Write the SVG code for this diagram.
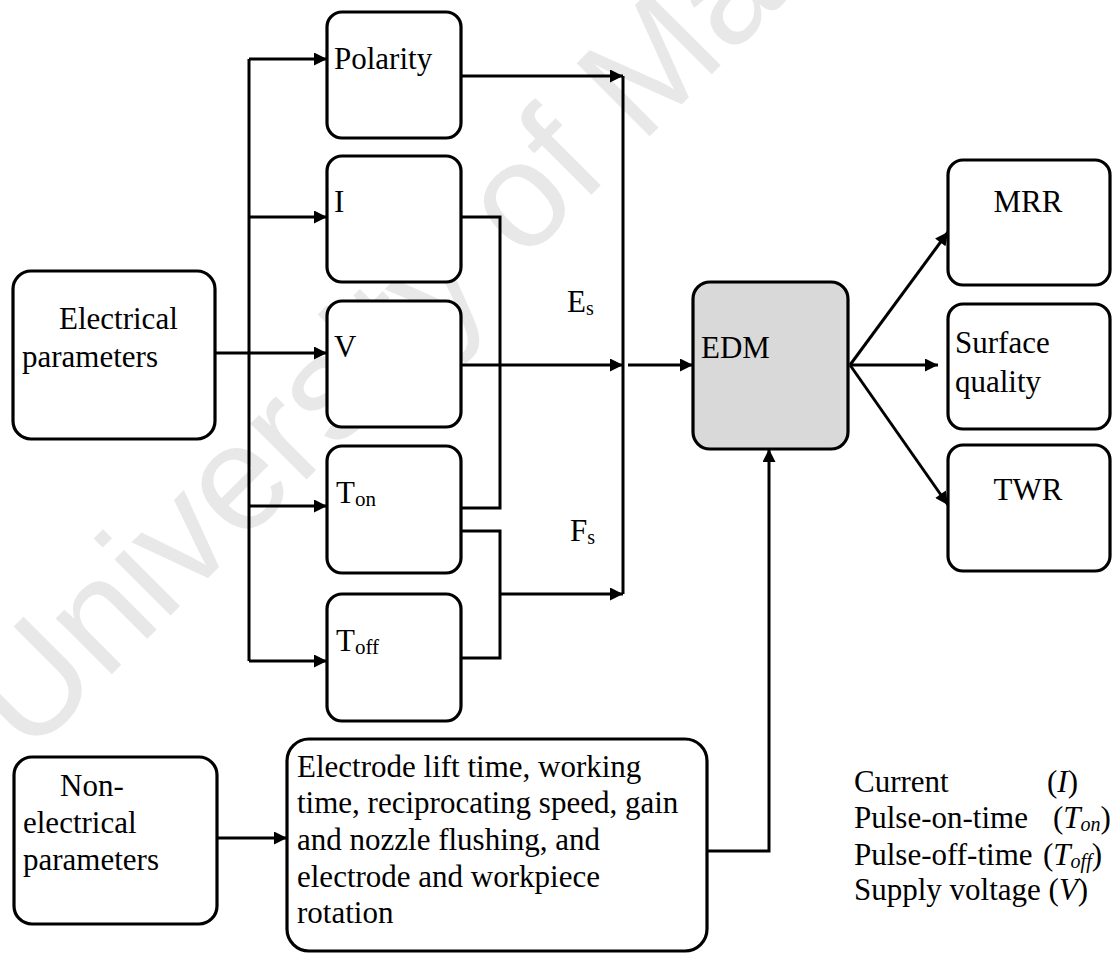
<svg xmlns="http://www.w3.org/2000/svg" width="1115" height="955" viewBox="0 0 1115 955">
<style>
.box{fill:#ffffff;stroke:#000000;stroke-width:3.2}
.edm{fill:#d9d9d9;stroke:#000000;stroke-width:3.2}
.t{font-family:"Liberation Serif","Times New Roman",serif;font-size:31px;fill:#000000}
.c{text-anchor:middle}
.wm{font-family:"Liberation Sans",Arial,sans-serif;font-size:150px;fill:#e8e8e8}
.ln{fill:none;stroke:#000000;stroke-width:3}
.ar{fill:none;stroke:#000000;stroke-width:3;marker-end:url(#ah)}
</style>
<defs>
<marker id="ah" viewBox="0 0 10 10" refX="10" refY="5" markerWidth="15" markerHeight="13" markerUnits="userSpaceOnUse" orient="auto">
<path d="M0,0 L10,5 L0,10 z" fill="#000000"/>
</marker>
</defs>
<rect width="1115" height="955" fill="#ffffff"/>
<g id="watermark">
<text class="wm" transform="translate(28,758) rotate(-45)">University of Malaya</text>
</g>
<g id="connectors">
<path class="ln" d="M249,59 V661"/>
<path class="ar" d="M249,59 H327"/>
<path class="ar" d="M249,217 H327"/>
<path class="ar" d="M249,506 H327"/>
<path class="ar" d="M249,661 H327"/>
<path class="ar" d="M215,353 H327"/>
<path class="ar" d="M461,76 H623"/>
<path class="ln" d="M623,76 V594"/>
<path class="ln" d="M461,217 H500 V508 H461"/>
<path class="ar" d="M461,365 H623"/>
<path class="ln" d="M461,531 H500 V658 H461"/>
<path class="ar" d="M500,594 H623"/>
<path class="ar" d="M628,365 H693"/>
<path class="ar" d="M850,365 L948,232"/>
<path class="ar" d="M850,365 H938"/>
<path class="ar" d="M850,365 L948,505"/>
<path class="ar" d="M217,838 H287"/>
<path class="ar" d="M707,851 H769 V449"/>
</g>
<g id="labels">
<text class="t" x="567" y="312">E<tspan font-size="20" dy="3">s</tspan></text>
<text class="t" x="570" y="541">F<tspan font-size="20" dy="3">s</tspan></text>
</g>
<g id="electrical">
<rect class="box" x="13" y="271" width="202" height="168" rx="18"/>
<text class="t" x="59" y="329">Electrical</text>
<text class="t" x="22" y="367">parameters</text>
</g>
<g id="polarity">
<rect class="box" x="327" y="12" width="134" height="126" rx="15"/>
<text class="t" x="334" y="69">Polarity</text>
</g>
<g id="current">
<rect class="box" x="327" y="156" width="134" height="126" rx="15"/>
<text class="t" x="334" y="212">I</text>
</g>
<g id="voltage">
<rect class="box" x="327" y="301" width="134" height="126" rx="15"/>
<text class="t" x="334" y="357">V</text>
</g>
<g id="ton">
<rect class="box" x="327" y="446" width="134" height="127" rx="15"/>
<text class="t" x="336" y="503">T<tspan font-size="21" dy="3">on</tspan></text>
</g>
<g id="toff">
<rect class="box" x="327" y="594" width="134" height="127" rx="15"/>
<text class="t" x="336" y="651">T<tspan font-size="21" dy="3">off</tspan></text>
</g>
<g id="edm">
<rect class="edm" x="693" y="282" width="155" height="167" rx="17"/>
<text class="t" x="701" y="358">EDM</text>
</g>
<g id="mrr">
<rect class="box" x="948" y="160" width="162" height="125" rx="15"/>
<text class="t c" x="1028" y="212">MRR</text>
</g>
<g id="surface">
<rect class="box" x="948" y="304" width="162" height="125" rx="15"/>
<text class="t" x="955" y="353">Surface</text>
<text class="t" x="955" y="392">quality</text>
</g>
<g id="twr">
<rect class="box" x="948" y="445" width="162" height="126" rx="15"/>
<text class="t c" x="1028" y="500">TWR</text>
</g>
<g id="nonelectrical">
<rect class="box" x="14" y="757" width="203" height="167" rx="18"/>
<text class="t" x="60" y="796">Non-</text>
<text class="t" x="23" y="833">electrical</text>
<text class="t" x="23" y="870">parameters</text>
</g>
<g id="nonelec-list">
<rect class="box" x="287" y="739" width="420" height="212" rx="22"/>
<text class="t" x="297" y="777">Electrode lift time, working</text>
<text class="t" x="297" y="813">time, reciprocating speed, gain</text>
<text class="t" x="297" y="850">and nozzle flushing, and</text>
<text class="t" x="297" y="887">electrode and workpiece</text>
<text class="t" x="297" y="923">rotation</text>
</g>
<g id="legend">
<text class="t" x="854" y="792">Current</text>
<text class="t" x="1047" y="792">(<tspan font-style="italic">I</tspan>)</text>
<text class="t" x="854" y="828">Pulse-on-time</text>
<text class="t" x="1053" y="828">(<tspan font-style="italic">T</tspan><tspan font-style="italic" font-size="20" dy="3">on</tspan><tspan dy="-3">)</tspan></text>
<text class="t" x="854" y="865">Pulse-off-time</text>
<text class="t" x="1043" y="865">(<tspan font-style="italic">T</tspan><tspan font-style="italic" font-size="20" dy="3">off</tspan><tspan dy="-3">)</tspan></text>
<text class="t" x="854" y="900">Supply voltage (<tspan font-style="italic">V</tspan>)</text>
</g>
</svg>
